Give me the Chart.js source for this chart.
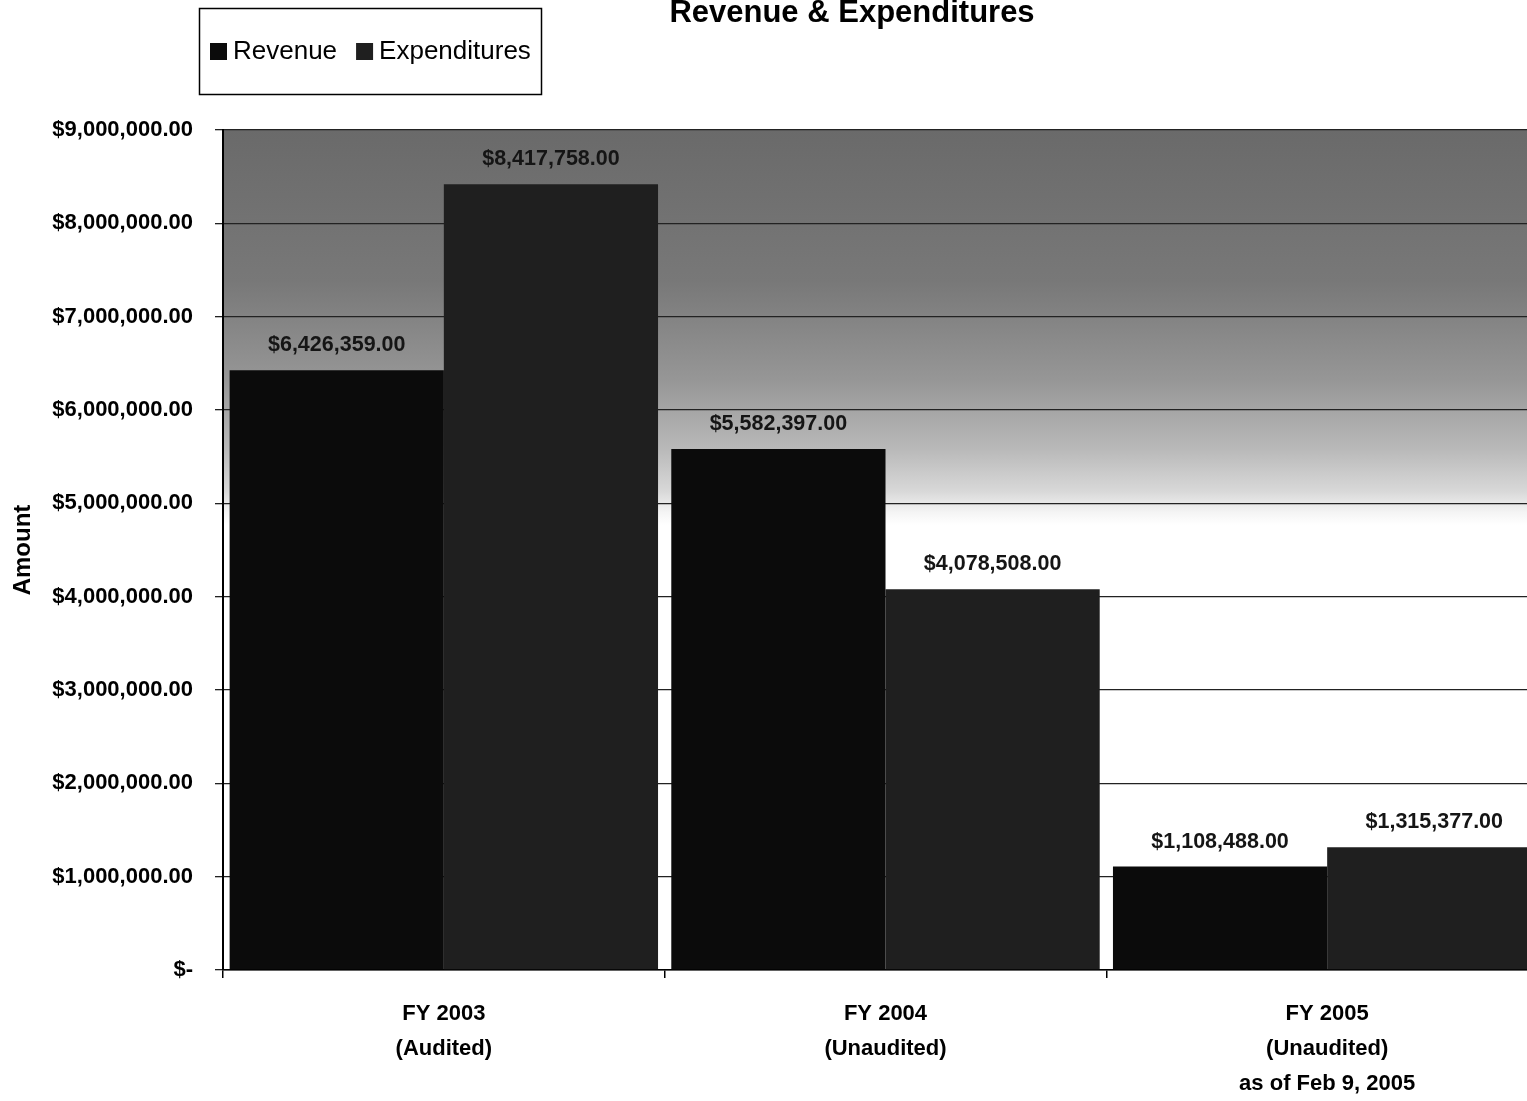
<!DOCTYPE html>
<html>
<head>
<meta charset="utf-8">
<script src="https://cdn.jsdelivr.net/npm/chart.js@4/dist/chart.umd.min.js"></script>
<style>
  html, body { margin: 0; padding: 0; background: #fff; overflow: hidden; }
  #wrap { width: 1552px; height: 1101px; }
</style>
</head>
<body>
<div id="wrap"><canvas id="chart" width="1552" height="1101"></canvas></div>
<script>
// values
var CATEGORIES = [
  ['FY 2003', '(Audited)'],
  ['FY 2004', '(Unaudited)'],
  ['FY 2005', '(Unaudited)', 'as of Feb 9, 2005']
];
var REVENUE      = [6426359, 5582397, 1108488];
var EXPENDITURES = [8417758, 4078508, 1315377];
var SERIES_NAMES = ['Revenue', 'Expenditures'];

var ARIAL = "'Liberation Sans', Arial, sans-serif";

function money(v) {
  if (v === 0) return '$-';
  return '$' + v.toLocaleString('en-US', { minimumFractionDigits: 2, maximumFractionDigits: 2 });
}

// gray gradient behind the plot, dark at top fading to white by the 5M line
var backdrop = {
  id: 'backdrop',
  beforeDraw: function(chart) {
    var a = chart.chartArea, ctx = chart.ctx;
    var g = ctx.createLinearGradient(0, a.top, 0, a.bottom);
    g.addColorStop(0.00, '#6a6a6a');
    g.addColorStop(0.18, '#787878');
    g.addColorStop(0.30, '#979797');
    g.addColorStop(0.38, '#b9b9b9');
    g.addColorStop(0.43, '#d8d8d8');
    g.addColorStop(0.455, '#f4f4f4');
    g.addColorStop(0.47, '#ffffff');
    g.addColorStop(1.00, '#ffffff');
    ctx.save();
    ctx.fillStyle = g;
    ctx.fillRect(a.left, a.top, a.right - a.left, a.bottom - a.top);
    ctx.restore();
  }
};

var barLabels = {
  id: 'barLabels',
  afterDatasetsDraw: function(chart) {
    var ctx = chart.ctx;
    ctx.save();
    ctx.font = 'bold 21.5px ' + ARIAL;
    ctx.fillStyle = '#151515';
    ctx.textAlign = 'center';
    ctx.textBaseline = 'alphabetic';
    chart.data.datasets.forEach(function(ds, i) {
      chart.getDatasetMeta(i).data.forEach(function(bar, j) {
        ctx.fillText(money(ds.data[j]), bar.x, bar.y - 19);
      });
    });
    ctx.restore();
  }
};

var headerBits = {
  id: 'headerBits',
  afterDraw: function(chart) {
    var ctx = chart.ctx;
    ctx.save();
    // title
    ctx.font = 'bold 31px ' + ARIAL;
    ctx.fillStyle = '#000';
    ctx.textAlign = 'center';
    ctx.textBaseline = 'middle';
    ctx.fillText('Revenue & Expenditures', 852, 13);
    // legend box
    ctx.strokeStyle = '#000';
    ctx.lineWidth = 1.5;
    ctx.strokeRect(199.5, 8.5, 342, 86);
    ctx.font = '26px ' + ARIAL;
    ctx.textAlign = 'left';
    var x = 210;
    chart.data.datasets.forEach(function(ds) {
      ctx.fillStyle = ds.backgroundColor;
      ctx.fillRect(x, 43, 17, 17);
      ctx.fillStyle = '#000';
      ctx.fillText(ds.label, x + 23, 52);
      x += 23 + ctx.measureText(ds.label).width + 19;
    });
    ctx.restore();
  }
};

new Chart(document.getElementById('chart'), {
  type: 'bar',
  data: {
    labels: CATEGORIES,
    datasets: [
      { label: SERIES_NAMES[0], data: REVENUE, backgroundColor: '#0b0b0b' },
      { label: SERIES_NAMES[1], data: EXPENDITURES, backgroundColor: '#1f1f1f' }
    ]
  },
  options: {
    responsive: false,
    animation: false,
    devicePixelRatio: 1,
    layout: { padding: { top: 130, right: 4, left: 0, bottom: 0 } },
    datasets: { bar: { categoryPercentage: 0.97, barPercentage: 1.0 } },
    plugins: {
      legend: { display: false },
      title: { display: false },
      tooltip: { enabled: false }
    },
    scales: {
      x: {
        afterFit: function(s) { s.height = 131; },
        grid: { display: true, drawOnChartArea: false, offset: true, color: '#000', tickLength: 8, lineWidth: 1.5 },
        border: { display: true, color: '#000', width: 1.5 },
        ticks: {
          color: '#000',
          padding: 18,
          font: { family: ARIAL, size: 22, weight: 'bold', lineHeight: 1.6 },
          maxRotation: 0
        }
      },
      y: {
        min: 0,
        max: 9000000,
        afterFit: function(s) { s.width = 223; },
        grid: { color: '#222', lineWidth: 1.3, tickLength: 8 },
        border: { display: true, color: '#000', width: 2 },
        title: {
          display: true,
          text: 'Amount',
          color: '#000',
          padding: { top: 9, bottom: 0 },
          font: { family: ARIAL, size: 24, weight: 'bold' }
        },
        ticks: {
          stepSize: 1000000,
          color: '#000',
          padding: 22,
          font: { family: ARIAL, size: 22, weight: 'bold' },
          callback: function(v) { return money(v); }
        }
      }
    }
  },
  plugins: [backdrop, barLabels, headerBits]
});
</script>
</body>
</html>
